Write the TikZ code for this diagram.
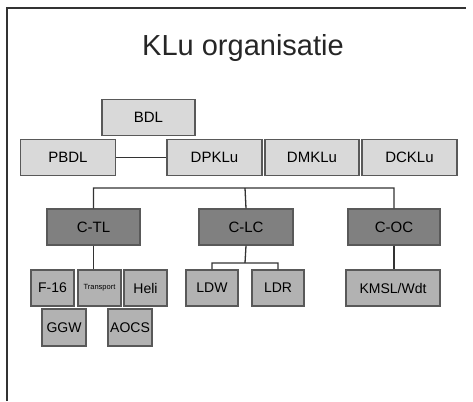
\documentclass[tikz,border=0pt]{standalone}
\usepackage{fontspec}
\setmainfont{Liberation Sans}
\tikzset{
  unit/.style={draw=black!65,line width=1.2pt,inner sep=0pt,minimum height=36pt,font=\fontsize{15}{17}\selectfont},
  lightunit/.style={unit,fill=black!15},
  darkunit/.style={unit,fill=black!50,font=\fontsize{15}{17}\selectfont},
  subunit/.style={unit,fill=black!30,minimum width=43pt,font=\fontsize{14}{16}\selectfont},
  link/.style={line width=1.3pt,black!80}
}
\begin{document}
\begin{tikzpicture}[x=1pt,y=-1pt]
\useasboundingbox(0,0)rectangle(473,401);
\fill[white](0,0)rectangle(473,401);
\draw[line width=2.5pt,black!80](7,401)--(7,8)--(466,8);
\node[text=black!85](title)at(243,48){\fontsize{29}{32}\selectfont KLu organisatie};
\node[lightunit,minimum width=93pt](bdl)at(148.5,117.5){BDL};
\node[lightunit,minimum width=95pt](pbdl)at(68,157.5){PBDL};
\node[lightunit,minimum width=95pt](dpklu)at(214.5,157.5){DPKLu};
\node[lightunit,minimum width=94pt](dmklu)at(312,157.5){DMKLu};
\node[lightunit,minimum width=95pt](dcklu)at(409.5,157.5){DCKLu};
\node[darkunit,minimum width=93pt](ctl)at(93.5,227){C-TL};
\node[darkunit,minimum width=94pt](clc)at(246,227){C-LC};
\node[darkunit,minimum width=92pt](coc)at(394,227){C-OC};
\node[subunit](f16)at(52.5,288){F-16};
\node[subunit,font=\fontsize{7.5}{9}\selectfont](transport)at(99.5,288){Transport};
\node[subunit](heli)at(145.5,288){Heli};
\node[subunit,minimum width=52pt](ldw)at(212,288){LDW};
\node[subunit,minimum width=52pt](ldr)at(278,288){LDR};
\node[subunit,minimum width=94pt](kmsl)at(393,288){KMSL/Wdt};
\node[subunit,minimum width=44pt,minimum height=37pt](ggw)at(64,327.5){GGW};
\node[subunit,minimum width=44pt,minimum height=37pt](aocs)at(130,327.5){AOCS};
\coordinate(bus)at(245,188);
\coordinate(lcbus)at(245,263);
\draw[link](pbdl)--(dpklu);
\draw[link](ctl.north)|-(bus)-|(coc.north)(bus)--(clc.north);
\draw[link](ctl.south)--(ctl.south|-transport.north);
\draw[link](clc.south)--(lcbus)(ldw.north)|-(lcbus)-|(ldr.north);
\draw[link](coc.south)--(coc.south|-kmsl.north);
\end{tikzpicture}
\end{document}
